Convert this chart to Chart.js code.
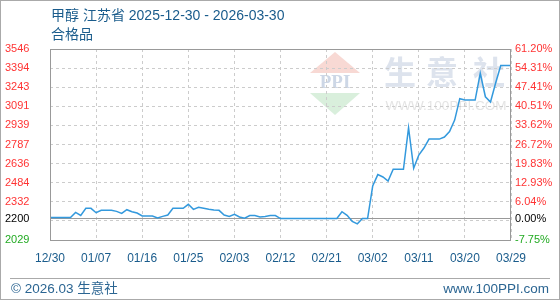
<!DOCTYPE html>
<html>
<head>
<meta charset="utf-8">
<script src="https://cdn.jsdelivr.net/npm/chart.js@4.4.1/dist/chart.umd.min.js"></script>
<style>
  html, body { margin: 0; padding: 0; background: #ffffff; }
  #box { width: 560px; height: 300px; }
</style>
</head>
<body>
<div id="box"><canvas id="priceChart" width="560" height="300"></canvas></div>
<script>
// Methanol price, Jiangsu - daily points
const titleText = "甲醇 江苏省 2025-12-30 - 2026-03-30";
const subtitleText = "合格品";

const xTickLabels = ["12/30", "01/07", "01/16", "01/25", "02/03", "02/12", "02/21", "03/02", "03/11", "03/20", "03/29"];

const priceValues = [
  2208, 2208, 2208, 2208, 2208, 2249, 2225, 2281, 2281, 2246,
  2265, 2265, 2265, 2257, 2241, 2270, 2254, 2244, 2220, 2220,
  2220, 2204, 2217, 2228, 2281, 2281, 2281, 2313, 2273, 2289,
  2281, 2273, 2268, 2265, 2228, 2217, 2233, 2212, 2202, 2224,
  2224, 2212, 2217, 2224, 2224, 2200, 2200, 2200, 2200, 2200,
  2200, 2200, 2200, 2200, 2200, 2200, 2200, 2254, 2225, 2178,
  2158, 2200, 2200, 2458, 2549, 2530, 2498, 2591, 2591, 2591,
  2921, 2599, 2704, 2760, 2831, 2831, 2831, 2847, 2891, 2982,
  3152, 3141, 3141, 3141, 3353, 3167, 3125, 3276, 3416, 3416,
  3416
];

// horizontal grid lines (top to bottom) and their labels
const gridValues = [3546.4, 3394.7, 3243.0, 3091.3, 2939.6, 2787.9, 2636.2, 2484.6, 2332.9, 2181.2, 2029.5];
const leftTickLabels = ["3546", "3394", "3243", "3091", "2939", "2787", "2636", "2484", "2332", "", "2029"];
const rightTickLabels = ["61.20%", "54.31%", "47.41%", "40.51%", "33.62%", "26.72%", "19.83%", "12.93%", "6.04%", "", "-7.75%"];
const baseValue = 2200;
const baseLeftLabel = "2200";
const baseRightLabel = "0.00%";

const yMin = gridValues[gridValues.length - 1];
const yMax = gridValues[0];

const textBlue = "#1a5c8c";
const tickFont = { family: "'Liberation Sans', Arial, sans-serif", size: 11 };

function tickColor(ctx) {
  const v = ctx.tick ? ctx.tick.value : null;
  if (v === baseValue) return "#000000";
  if (v === yMin) return "#22aa22";
  return "#ff3333";
}

function yTicks(scale) {
  scale.ticks = gridValues.concat([baseValue]).map((v) => ({ value: v }));
}

function labelFor(value, list, baseLabel) {
  if (value === baseValue) return baseLabel;
  const idx = gridValues.indexOf(value);
  return idx >= 0 ? list[idx] : "";
}

// background, watermark, frame and texts
const decorPlugin = {
  id: "decor",
  beforeDraw(chart) {
    const c = chart.ctx;
    c.save();
    c.fillStyle = "#ffffff";
    c.fillRect(0, 0, chart.width, chart.height);

    // watermark logo
    c.fillStyle = "#f8d9d4";
    c.beginPath();
    c.moveTo(335, 52); c.lineTo(360, 73); c.lineTo(310, 73); c.closePath();
    c.fill();
    c.fillStyle = "#d9efdc";
    c.beginPath();
    c.moveTo(310, 93); c.lineTo(360, 93); c.lineTo(335, 115); c.closePath();
    c.fill();
    c.fillStyle = "#cdd7e6";
    c.font = "bold 19px 'Liberation Serif', serif";
    c.textAlign = "center";
    c.textBaseline = "middle";
    c.fillText("PPI", 335, 83);

    c.fillStyle = "#dde3ed";
    c.font = "bold 32px 'Noto Sans CJK SC', sans-serif";
    c.fillText("生", 400, 72);
    c.fillText("意", 442, 72);
    c.fillText("社", 489, 72);
    c.fillStyle = "#e4e4e4";
    c.font = "13.5px 'Liberation Sans', Arial, sans-serif";
    c.fillText("WWW.100PPI.COM", 446, 106);
    c.restore();
  },
  afterDraw(chart) {
    const c = chart.ctx;
    const a = chart.chartArea;
    c.save();
    // plot frame
    c.strokeStyle = "#999999";
    c.lineWidth = 1;
    c.strokeRect(a.left + 0.5, a.top + 0.5, a.right - a.left - 1, a.bottom - a.top);

    // titles
    c.fillStyle = textBlue;
    c.textAlign = "left";
    c.textBaseline = "middle";
    c.font = "14px 'Liberation Sans', 'Noto Sans CJK SC', sans-serif";
    c.fillText(titleText, 51, 16);
    c.fillText(subtitleText, 51, 35);

    // footer
    c.strokeStyle = "#aaaaaa";
    c.beginPath();
    c.moveTo(10, 278.5); c.lineTo(550, 278.5);
    c.stroke();
    c.fillStyle = "#2b6592";
    c.font = "13.5px 'Liberation Sans', 'Noto Sans CJK SC', sans-serif";
    c.fillText("© 2026.03 生意社", 11, 289);
    c.textAlign = "right";
    c.fillText("www.100PPI.com", 549, 289);

    // outer border
    c.strokeStyle = "#aaaaaa";
    c.strokeRect(0.5, 0.5, chart.width - 1, chart.height - 1);
    c.restore();
  }
};

const config = {
  type: "line",
  data: {
    labels: priceValues.map((v, i) => i),
    datasets: [
      {
        label: "甲醇",
        data: priceValues,
        borderColor: "#3399dd",
        borderWidth: 1.5,
        pointRadius: 0,
        tension: 0,
        fill: false,
      },
    ],
  },
  options: {
    responsive: false,
    animation: false,
    devicePixelRatio: 1,
    layout: { padding: { top: 49, left: 5, right: 0, bottom: 0 } },
    plugins: {
      legend: { display: false },
      tooltip: { enabled: false },
    },
    scales: {
      x: {
        type: "linear",
        min: 0,
        max: 90,
        afterBuildTicks: (scale) => {
          scale.ticks = xTickLabels.map((t, k) => ({ value: k * 9 }));
        },
        afterFit: (scale) => { scale.height = 60; },
        grid: { color: "#cccccc", drawTicks: false },
        border: { display: false, dash: [3, 3] },
        ticks: {
          autoSkip: false,
          maxRotation: 0,
          padding: 11,
          color: textBlue,
          font: { family: "'Liberation Sans', Arial, sans-serif", size: 12 },
          callback: (value) => xTickLabels[Math.round(value / 9)],
        },
      },
      y: {
        position: "left",
        min: yMin,
        max: yMax,
        afterBuildTicks: yTicks,
        afterFit: (scale) => { scale.width = 45; },
        grid: {
          drawTicks: false,
          color: (ctx) => (ctx.tick && ctx.tick.value === baseValue ? "#999999" : "#cccccc"),
        },
        border: {
          display: false,
          dash: (ctx) => (ctx.tick && ctx.tick.value === baseValue ? [] : [3, 3]),
        },
        ticks: {
          autoSkip: false,
          crossAlign: "far",
          padding: 0,
          font: tickFont,
          color: tickColor,
          callback: (value) => labelFor(value, leftTickLabels, baseLeftLabel),
        },
      },
      y1: {
        position: "right",
        min: yMin,
        max: yMax,
        afterBuildTicks: yTicks,
        afterFit: (scale) => { scale.width = 49; },
        grid: { drawOnChartArea: false, drawTicks: false },
        border: { display: false },
        ticks: {
          autoSkip: false,
          crossAlign: "near",
          padding: 4,
          font: tickFont,
          color: tickColor,
          callback: (value) => labelFor(value, rightTickLabels, baseRightLabel),
        },
      },
    },
  },
  plugins: [decorPlugin],
};

const priceChart = new Chart(document.getElementById("priceChart"), config);
</script>
</body>
</html>
